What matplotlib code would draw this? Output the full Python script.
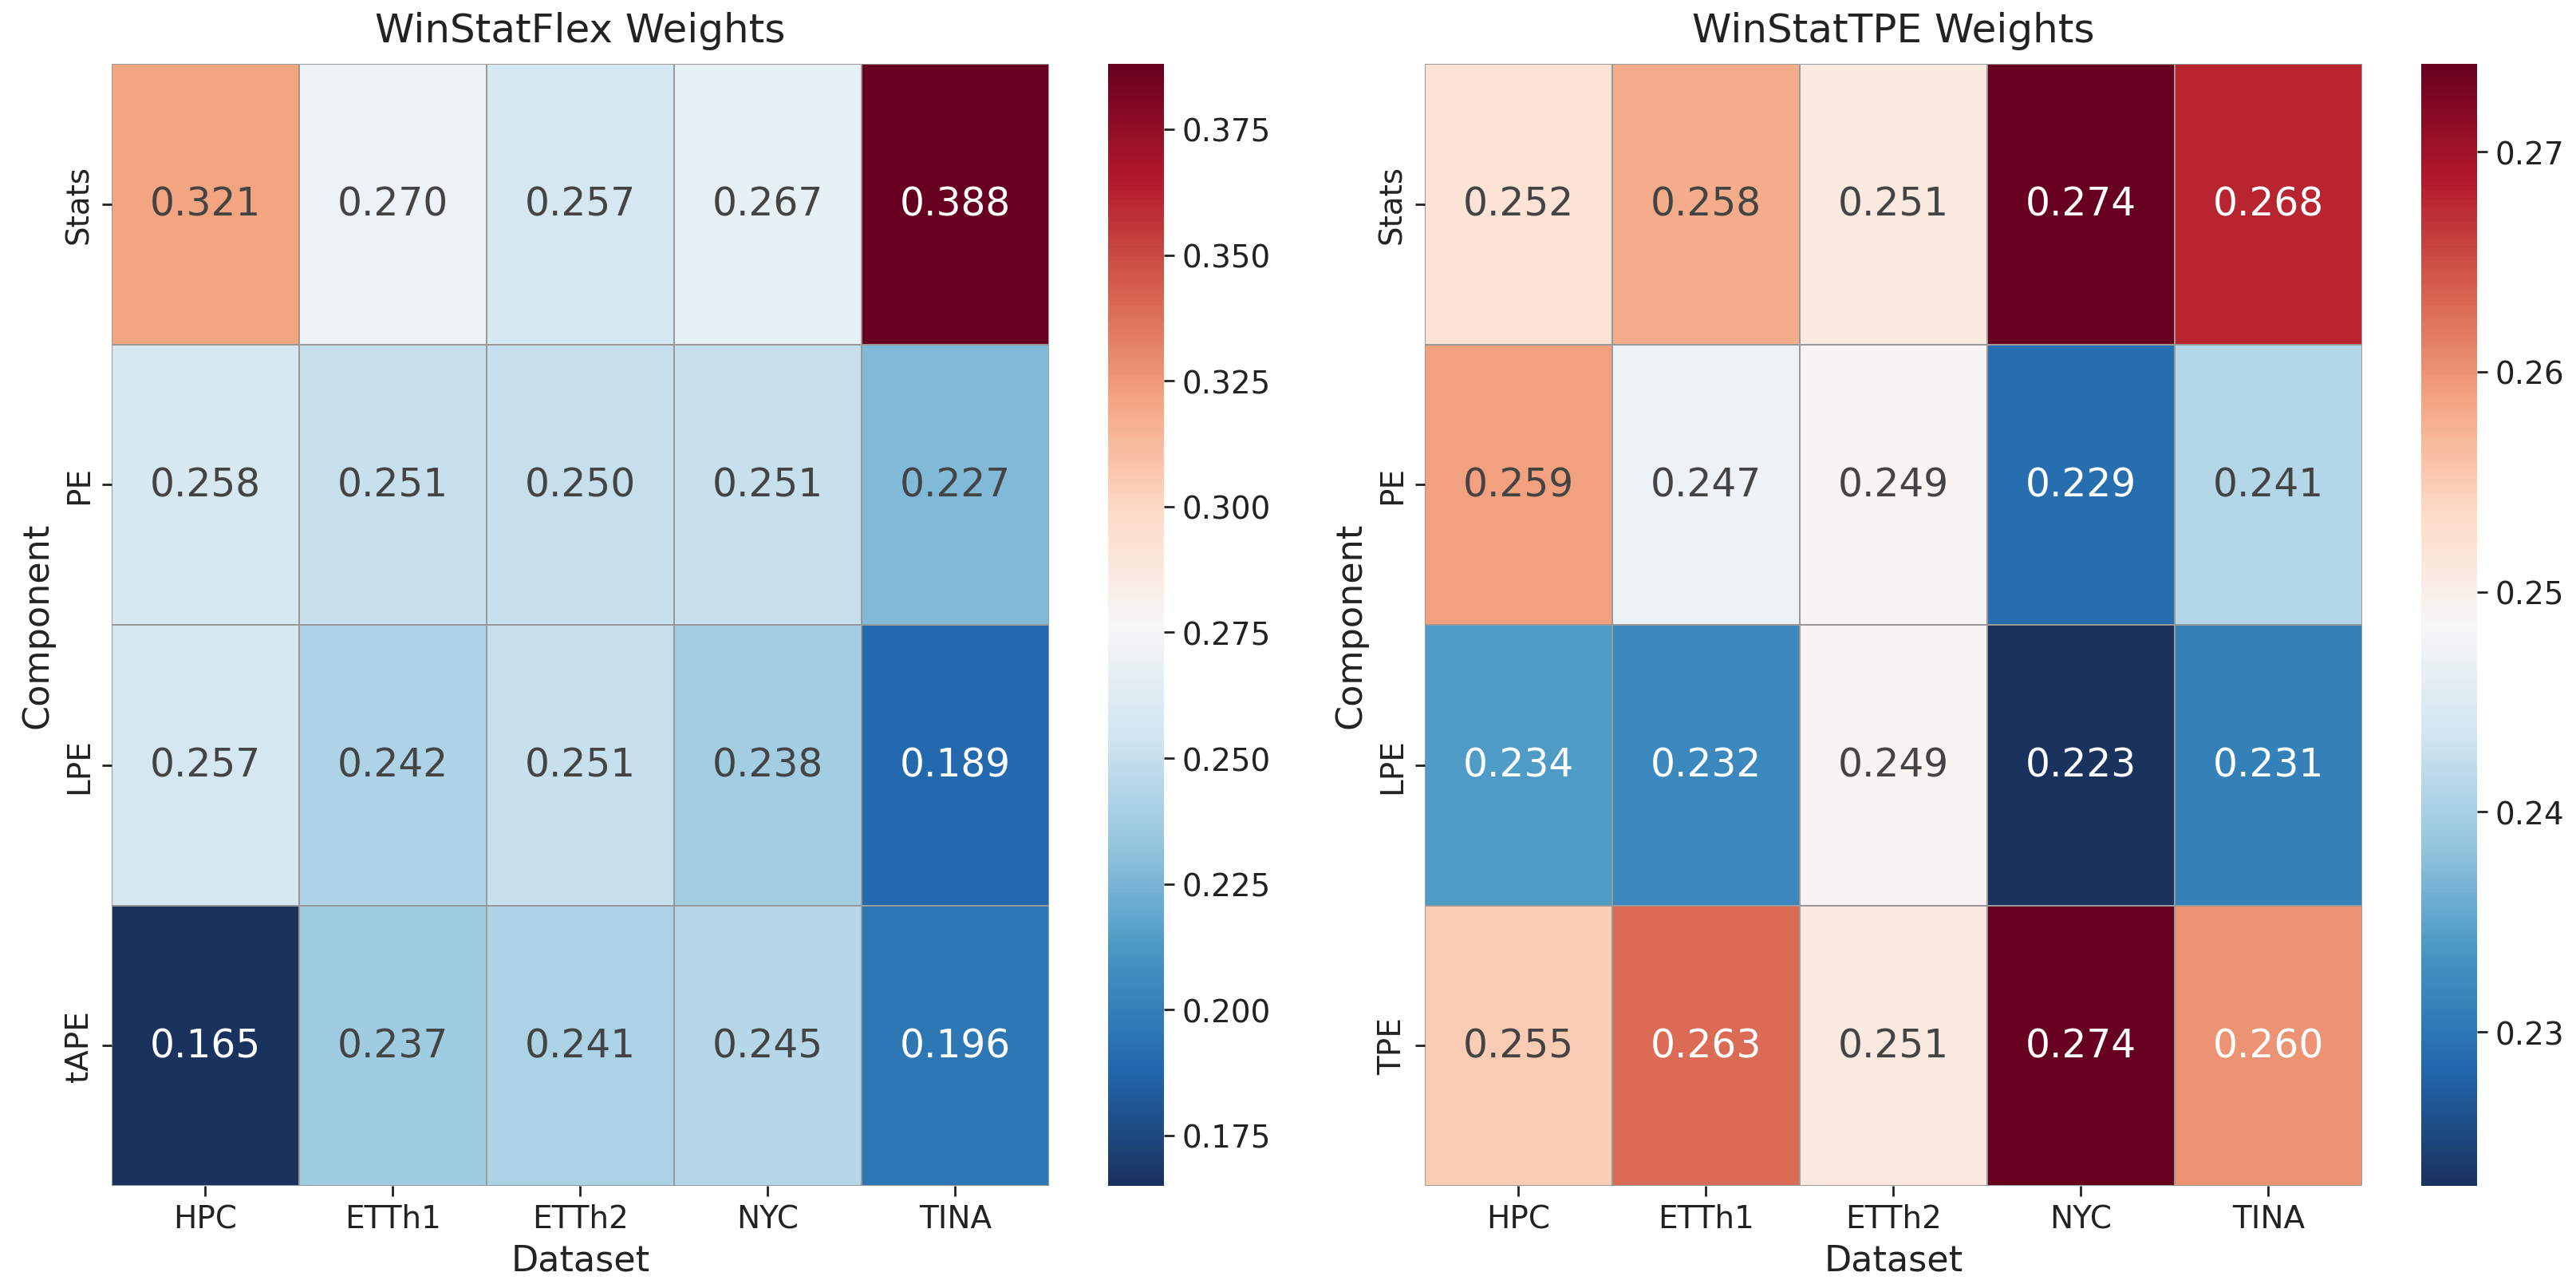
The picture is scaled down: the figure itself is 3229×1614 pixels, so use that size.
import matplotlib
matplotlib.use("Agg")
import matplotlib.pyplot as plt
from matplotlib.colors import LinearSegmentedColormap
import numpy as np
import seaborn as sns

datasets = ["HPC", "ETTh1", "ETTh2", "NYC", "TINA"]

flex_components = ["Stats", "PE", "LPE", "tAPE"]
flex_stats = [0.321, 0.270, 0.257, 0.267, 0.388]
flex_pe = [0.258, 0.251, 0.250, 0.251, 0.227]
flex_lpe = [0.257, 0.242, 0.251, 0.238, 0.189]
flex_tape = [0.165, 0.237, 0.241, 0.245, 0.196]

tpe_components = ["Stats", "PE", "LPE", "TPE"]
tpe_stats = [0.252, 0.258, 0.251, 0.274, 0.268]
tpe_pe = [0.259, 0.247, 0.249, 0.229, 0.241]
tpe_lpe = [0.234, 0.232, 0.249, 0.223, 0.231]
tpe_tpe = [0.255, 0.263, 0.251, 0.274, 0.260]

# RdBu_r stops, dark blue end a bit softer like the original
cmap = LinearSegmentedColormap.from_list("rdbu_soft", [
    "#1a325e", "#2166ac", "#4393c3", "#92c5de", "#d1e5f0", "#f7f7f7",
    "#fddbc7", "#f4a582", "#d6604d", "#b2182b", "#67001f"])

plt.rcParams['font.family'] = ['DejaVu Sans']
plt.rcParams['text.color'] = '#222222'
plt.rcParams['axes.labelcolor'] = '#222222'
plt.rcParams['xtick.color'] = '#222222'
plt.rcParams['ytick.color'] = '#222222'
plt.rcParams['xtick.major.size'] = 4.5
plt.rcParams['ytick.major.size'] = 4.5
plt.rcParams['xtick.major.width'] = 1.0
plt.rcParams['ytick.major.width'] = 1.0

W, H = 3230, 1615
fig = plt.figure(figsize=(W / 200, H / 200), dpi=200)

bottom = 1 - 1487 / H
height = 1406 / H


def panel(x0, cx0, data, rows, title):
    ax = fig.add_axes([x0 / W, bottom, 1175 / W, height])
    cax = fig.add_axes([cx0 / W, bottom, 70 / W, height])
    sns.heatmap(np.array(data), ax=ax, cbar_ax=cax, cmap=cmap,
                annot=True, fmt=".3f", annot_kws={"fontsize": 17.5},
                linewidths=0.7, linecolor="#999999",
                xticklabels=datasets, yticklabels=rows)
    for t in ax.texts:
        if t.get_color() != "w":
            t.set_color("#444444")
    ax.set_title(title, fontsize=18, pad=10)
    ax.set_xlabel("Dataset", fontsize=16)
    ax.set_ylabel("Component", fontsize=16)
    ax.tick_params(labelsize=14)
    cax.tick_params(labelsize=14)
    return ax, cax


panel(140, 1389, [flex_stats, flex_pe, flex_lpe, flex_tape], flex_components,
      "WinStatFlex Weights")
panel(1786, 3035, [tpe_stats, tpe_pe, tpe_lpe, tpe_tpe], tpe_components,
      "WinStatTPE Weights")

fig.savefig("out.png", dpi=200)
